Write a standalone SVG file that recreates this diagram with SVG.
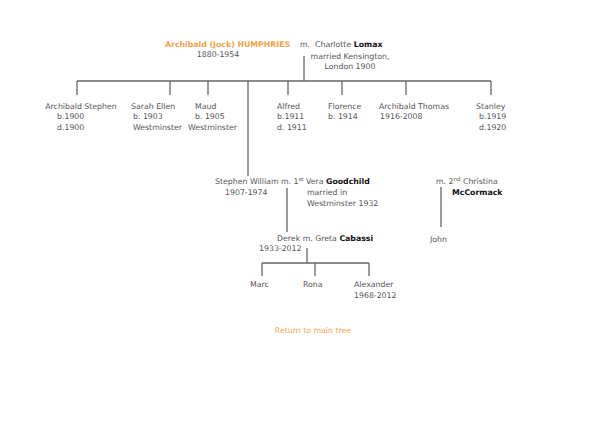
<svg xmlns="http://www.w3.org/2000/svg" width="600" height="424" viewBox="0 0 600 424">
<style>
text{font-family:"DejaVu Sans",Verdana,sans-serif;font-size:7.8px;fill:#555}
.b{font-weight:bold;fill:#111}
.o{fill:#f0a34c}
.ob{fill:#f0a34c;font-weight:bold}
.sup{font-size:5.5px}
.c{text-anchor:middle}
line,polyline{stroke:#666;stroke-width:1.3;fill:none}
</style>
<rect width="600" height="424" fill="#fff"/>
<g id="connectors">
<line x1="304" y1="56" x2="304" y2="81"/>
<line x1="77" y1="81" x2="491" y2="81"/>
<line x1="77" y1="81" x2="77" y2="95"/>
<line x1="170" y1="81" x2="170" y2="95"/>
<line x1="208" y1="81" x2="208" y2="95"/>
<line x1="248" y1="81" x2="248" y2="176"/>
<line x1="288" y1="81" x2="288" y2="95"/>
<line x1="342" y1="81" x2="342" y2="95"/>
<line x1="406" y1="81" x2="406" y2="95"/>
<line x1="491" y1="81" x2="491" y2="95"/>
<line x1="287" y1="188" x2="287" y2="232"/>
<line x1="441" y1="187" x2="441" y2="227"/>
<line x1="307" y1="248" x2="307" y2="263"/>
<line x1="262" y1="263" x2="369" y2="263"/>
<line x1="262" y1="263" x2="262" y2="276"/>
<line x1="315" y1="263" x2="315" y2="276"/>
<line x1="369" y1="263" x2="369" y2="276"/>
</g>
<g id="archibald-jock">
<text x="165" y="47" class="ob">Archibald (Jock) HUMPHRIES</text>
<text x="218" y="57" class="c">1880-1954</text>
</g>
<g id="charlotte">
<text x="300" y="47">m.</text>
<text x="315" y="47">Charlotte <tspan class="b">Lomax</tspan></text>
<text x="350" y="59" class="c">married Kensington,</text>
<text x="350" y="69" class="c">London 1900</text>
</g>
<g id="archibald-stephen">
<text x="81" y="109" class="c">Archibald Stephen</text>
<text x="57" y="119">b.1900</text>
<text x="57" y="130">d.1900</text>
</g>
<g id="sarah-ellen">
<text x="131" y="109">Sarah Ellen</text>
<text x="133" y="119">b. 1903</text>
<text x="133" y="130">Westminster</text>
</g>
<g id="maud">
<text x="195" y="109">Maud</text>
<text x="195" y="119">b. 1905</text>
<text x="188" y="130">Westminster</text>
</g>
<g id="alfred">
<text x="277" y="109">Alfred</text>
<text x="277" y="119">b.1911</text>
<text x="277" y="130">d. 1911</text>
</g>
<g id="florence">
<text x="328" y="109">Florence</text>
<text x="328" y="119">b. 1914</text>
</g>
<g id="archibald-thomas">
<text x="379" y="109">Archibald Thomas</text>
<text x="380" y="119">1916-2008</text>
</g>
<g id="stanley">
<text x="476" y="109">Stanley</text>
<text x="479" y="119">b.1919</text>
<text x="479" y="130">d.1920</text>
</g>
<g id="stephen-william">
<text x="215" y="184">Stephen William m. 1<tspan class="sup" dy="-3">st</tspan><tspan dy="3"> Vera </tspan><tspan class="b">Goodchild</tspan></text>
<text x="225" y="195">1907-1974</text>
<text x="307" y="195">married in</text>
<text x="307" y="206">Westminster 1932</text>
</g>
<g id="christina">
<text x="436" y="184">m. 2<tspan class="sup" dy="-3">nd</tspan><tspan dy="3"> Christina</tspan></text>
<text x="452" y="195" class="b">McCormack</text>
</g>
<g id="john">
<text x="430" y="242">John</text>
</g>
<g id="derek">
<text x="277" y="241">Derek m. Greta <tspan class="b">Cabassi</tspan></text>
<text x="259" y="251">1933-2012</text>
</g>
<g id="marc">
<text x="250" y="287">Marc</text>
</g>
<g id="rona">
<text x="303" y="287">Rona</text>
</g>
<g id="alexander">
<text x="354" y="287">Alexander</text>
<text x="354" y="298">1968-2012</text>
</g>
<g id="return">
<text x="313" y="333" class="o c">Return to main tree</text>
</g>
</svg>
